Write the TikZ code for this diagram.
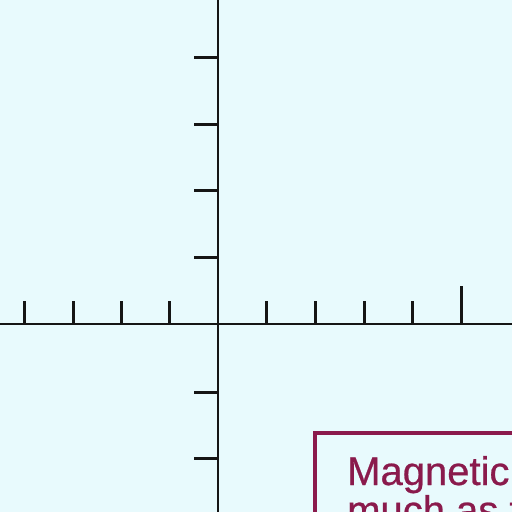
\documentclass[tikz,border=0pt]{standalone}
\usepackage{fontspec}
\setmainfont{Liberation Sans}
\definecolor{bgc}{HTML}{E8FAFD}
\definecolor{maroon}{HTML}{8A1A4C}
\definecolor{ink}{HTML}{151515}
\begin{document}
\begin{tikzpicture}[x=1pt,y=-1pt,
  axis/.style={draw=ink,line width=2.8pt},
  tick/.style={draw=ink,line width=3pt},
  boxline/.style={draw=maroon,line width=3.2pt},
  lbl/.style={text=maroon,font=\fontsize{40}{40}\selectfont,anchor=base west,inner sep=0pt}]
\useasboundingbox (0,0) rectangle (512,512);
\clip (0,0) rectangle (512,512);
\fill[bgc] (0,0) rectangle (512,512);
% axes
\coordinate (vt) at (218,0);
\coordinate (vb) at (218,512);
\coordinate (hl) at (0,324);
\coordinate (hr) at (512,324);
\draw[axis] (vt) -- (vb);
\draw[axis] (hl) -- (hr);
% vertical ticks
\foreach \y in {57,124,190,257,392,458}
  \draw[tick] (194,\y) -- (218,\y);
% horizontal ticks
\foreach \x in {24,73,121,169,266,315,364,412}
  \draw[tick] (\x,301) -- (\x,324);
\draw[tick] (461,286) -- (461,324);
% box
\coordinate (bl) at (315,540);
\coordinate (tl) at (315,433);
\coordinate (tr) at (540,433);
\draw[boxline] (bl) -- (tl) -- (tr);
\node[lbl] (l1) at (347,485) {\addfontfeatures{FakeBold=0.6}Magnetic};
\node[lbl] (l2) at (347,524) {\addfontfeatures{FakeBold=0.6}much as t};
\end{tikzpicture}
\end{document}
